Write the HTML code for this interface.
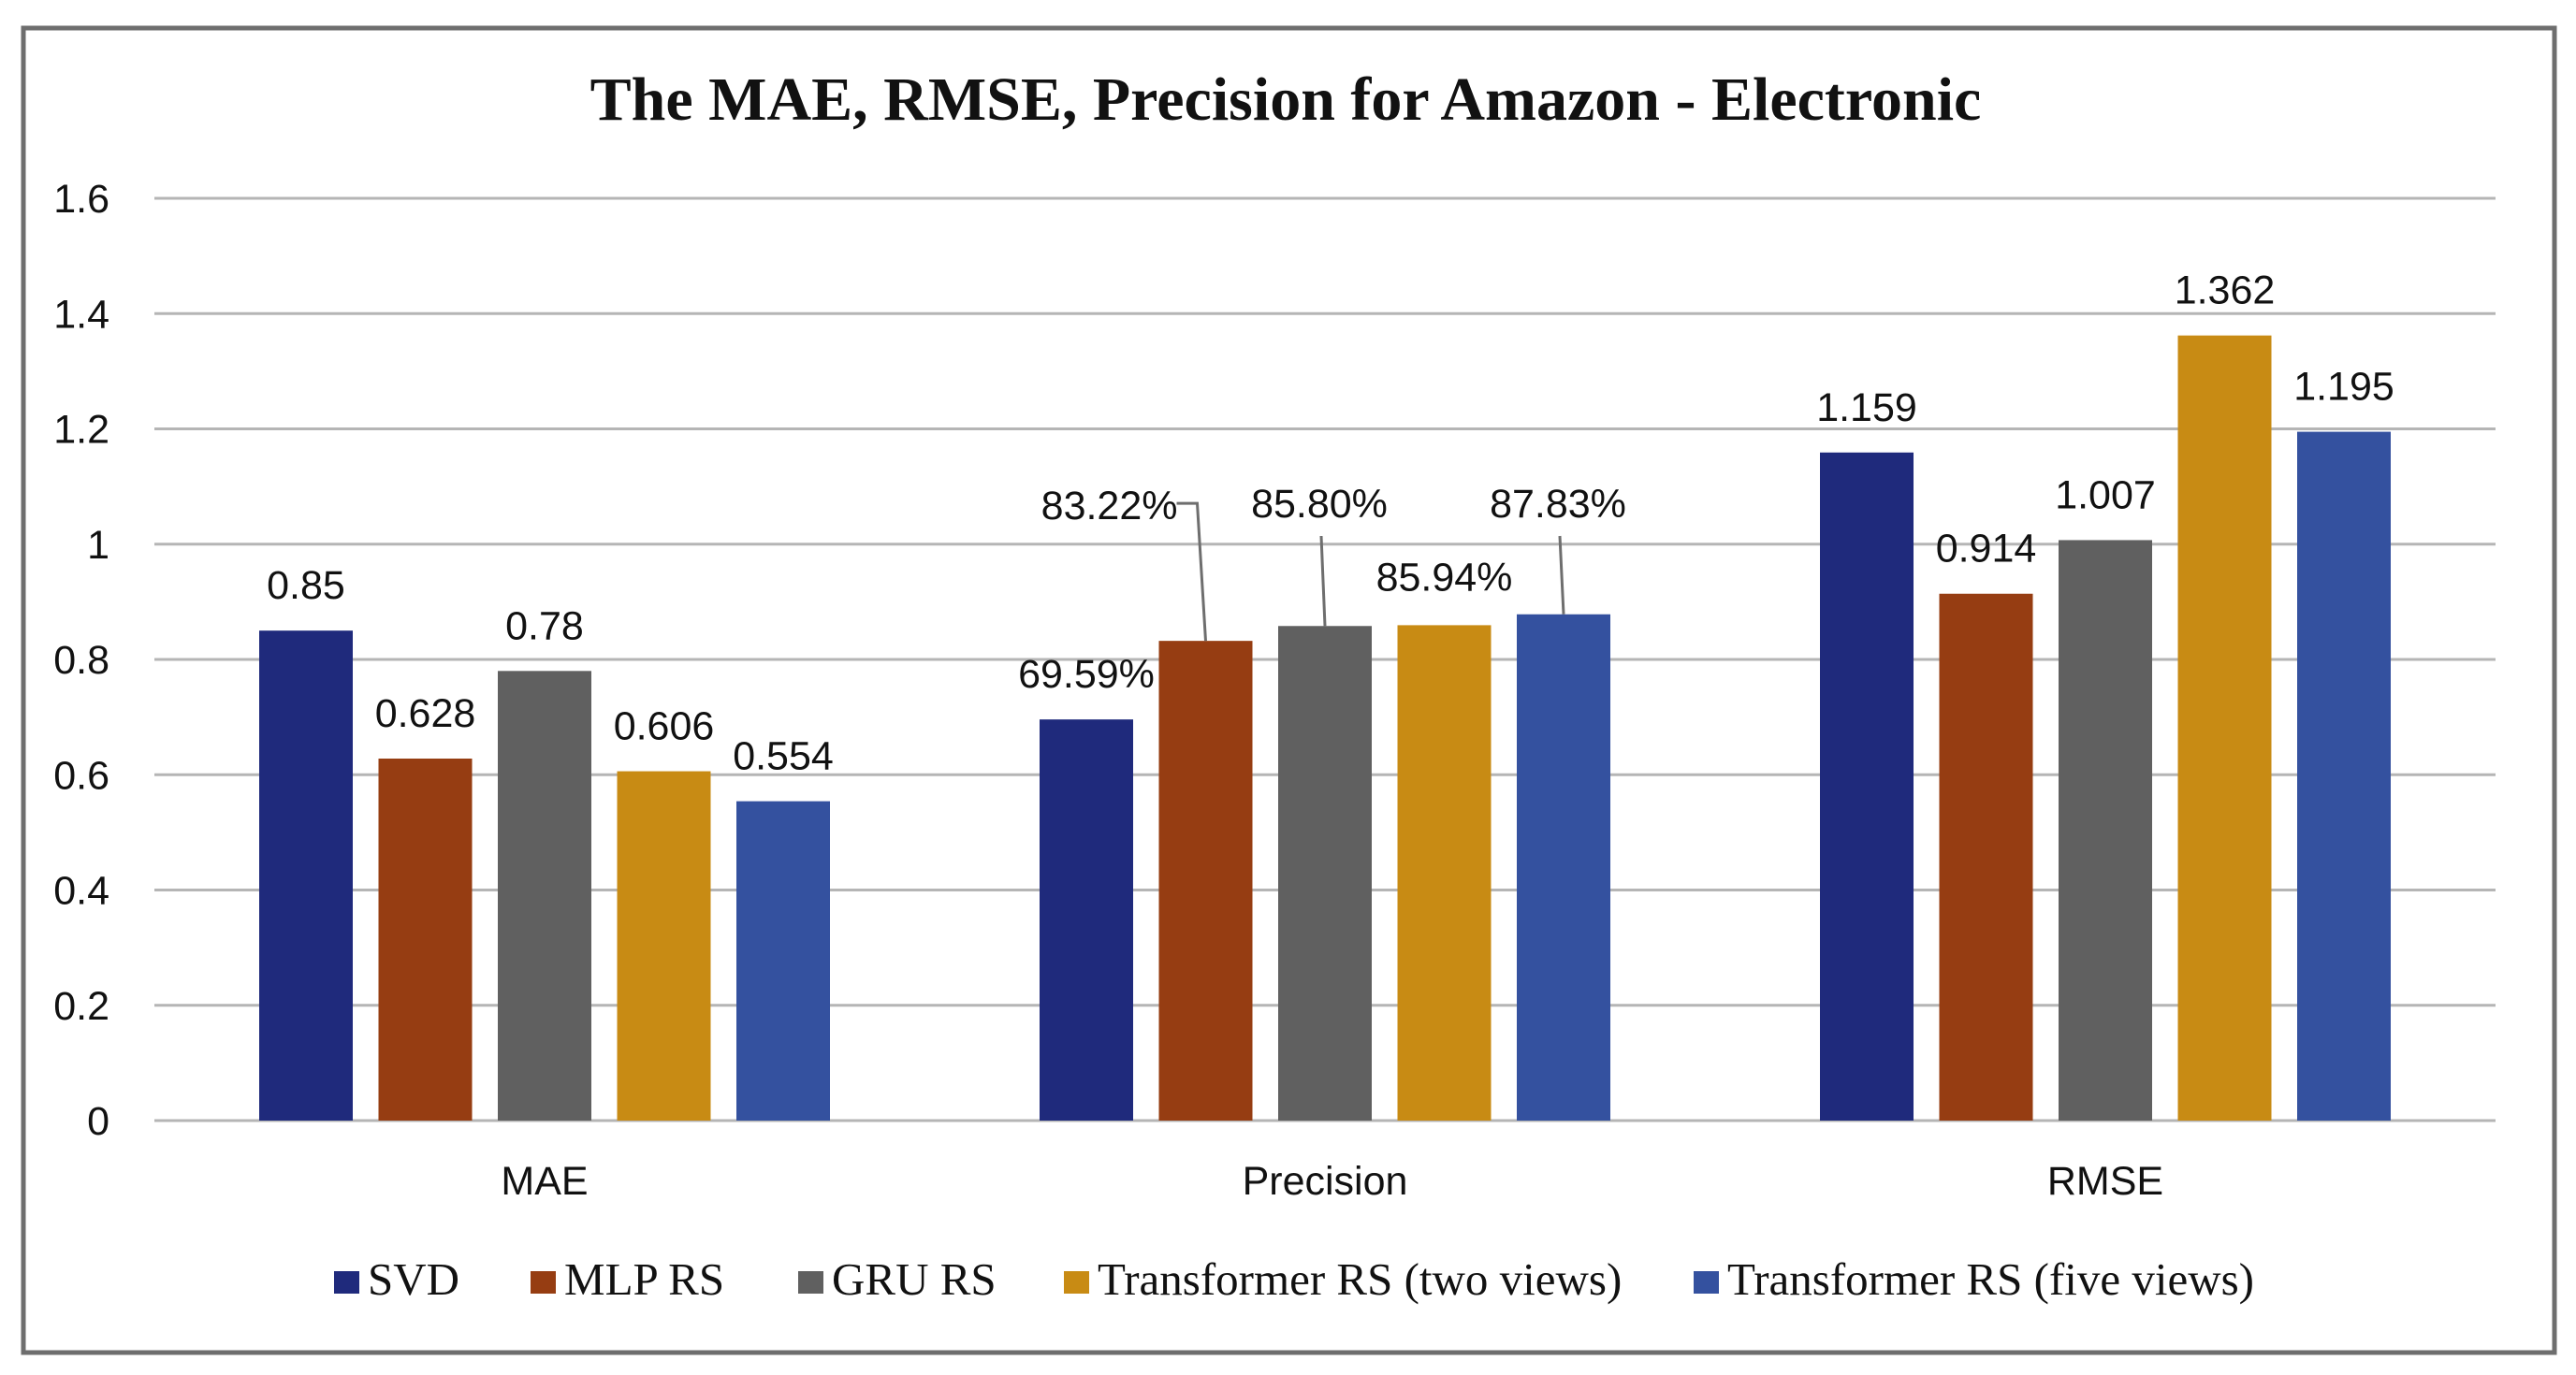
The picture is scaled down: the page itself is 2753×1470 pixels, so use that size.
<!DOCTYPE html>
<html><head><meta charset="utf-8"><style>
html,body{margin:0;padding:0;background:#fff;}
svg{display:block;}
.t{font-family:"Liberation Sans",sans-serif;font-size:43px;fill:#111;}
.lg{font-family:"Liberation Serif",serif;font-size:49px;fill:#111;}
</style></head><body>
<svg id="chart" width="2753" height="1470" viewBox="0 0 2753 1470" xmlns="http://www.w3.org/2000/svg">
<rect x="0" y="0" width="2753" height="1470" fill="#fff"/>
<rect x="25" y="30" width="2705" height="1416" fill="none" stroke="#6e6e6e" stroke-width="5"/>
<text x="1374" y="128" text-anchor="middle" font-family="Liberation Serif,serif" font-weight="bold" font-size="66" fill="#111">The MAE, RMSE, Precision for Amazon - Electronic</text>
<g id="grid"></g><g id="bars"></g><g id="labels"></g><g id="legend"></g>
</svg>
<script>
const categories = ["MAE", "Precision", "RMSE"];
const seriesNames = ["SVD", "MLP RS", "GRU RS", "Transformer RS (two views)", "Transformer RS (five views)"];
const svdValues = [0.85, 0.6959, 1.159];
const mlpValues = [0.628, 0.8322, 0.914];
const gruValues = [0.78, 0.858, 1.007];
const trans2Values = [0.606, 0.8594, 1.362];
const trans5Values = [0.554, 0.8783, 1.195];
const valueLabels = [
  ["0.85", "69.59%", "1.159"],
  ["0.628", "83.22%", "0.914"],
  ["0.78", "85.80%", "1.007"],
  ["0.606", "85.94%", "1.362"],
  ["0.554", "87.83%", "1.195"]
];
const yTicks = [0, 0.2, 0.4, 0.6, 0.8, 1, 1.2, 1.4, 1.6];
const yTickLabels = ["0", "0.2", "0.4", "0.6", "0.8", "1", "1.2", "1.4", "1.6"];

const colors = ["#1f2a7c", "#963d12", "#606060", "#c88b14", "#34519f"];
const allSeries = [svdValues, mlpValues, gruValues, trans2Values, trans5Values];
const NS = "http://www.w3.org/2000/svg";
const plotL = 165, plotR = 2667, y0 = 1198, yTop = 212, yMax = 1.6;
const band = (plotR - plotL) / categories.length;
const barW = 100, step = 127.5;
function yScale(v){ return y0 - (v / yMax) * (y0 - yTop); }
function xCenter(ci){ return plotL + band * (ci + 0.5); }
function xBar(ci, si){ return xCenter(ci) + (si - 2) * step - barW / 2; }
function mk(tag, attrs, parent){ const e = document.createElementNS(NS, tag); for (const k in attrs) e.setAttribute(k, attrs[k]); parent.appendChild(e); return e; }

const grid = document.getElementById('grid');
yTicks.forEach((t, i) => {
  const l = mk('line', {x1: plotL, x2: plotR, y1: yScale(t), y2: yScale(t), stroke: '#b5b5b5', 'stroke-width': 3}, grid);
  
  
  const tx = mk('text', {x: 117, y: yScale(t) + 15, 'text-anchor': 'end', class: 't'}, grid);
  tx.textContent = yTickLabels[i];
  
  
});
categories.forEach((c, ci) => {
  const tx = mk('text', {x: xCenter(ci), y: 1277, 'text-anchor': 'middle', class: 't'}, grid);
  tx.textContent = c;
  
  
});

const bars = document.getElementById('bars');
const labels = document.getElementById('labels');
allSeries.forEach((vals, si) => {
  vals.forEach((v, ci) => {
    const r = mk('rect', {x: xBar(ci, si), y: yScale(v), width: barW, height: y0 - yScale(v), fill: colors[si]}, bars);
    
    
    const cx = xBar(ci, si) + barW / 2;
    let lx = cx, ly = yScale(v) - 34, anchor = 'middle';
    if (ci === 1 && si === 1) {
      lx = cx - 30; ly = yScale(v) - 130; anchor = 'end';
      const p = mk('polyline', {points: (cx-31)+','+(ly-17)+' '+(cx-9)+','+(ly-17)+' '+cx+','+yScale(v), fill: 'none', stroke: '#6e6e6e', 'stroke-width': 3}, labels);
      
      
    } else if (ci === 1 && (si === 2 || si === 4)) {
      ly = 553;
      const p = mk('line', {x1: cx - 4, y1: 573, x2: cx, y2: yScale(v), stroke: '#6e6e6e', 'stroke-width': 3}, labels);
      
      
      lx = cx - 6;
    } else if (ci === 1 && si === 3) {
      ly = yScale(v) - 37;
    }
    const t = mk('text', {x: lx, y: ly, 'text-anchor': anchor, class: 't'}, labels);
    t.textContent = valueLabels[si][ci];
    
    
  });
});

const legend = document.getElementById('legend');
const legX = [357, 567, 853, 1137, 1810];
seriesNames.forEach((n, si) => {
  const g = mk('g', {}, legend);
  
  
  mk('rect', {x: legX[si], y: 1359, width: 27, height: 24, fill: colors[si]}, g);
  const t = mk('text', {x: legX[si] + 36, y: 1384, class: 'lg'}, g);
  t.textContent = n;
});
</script>
</body></html>
